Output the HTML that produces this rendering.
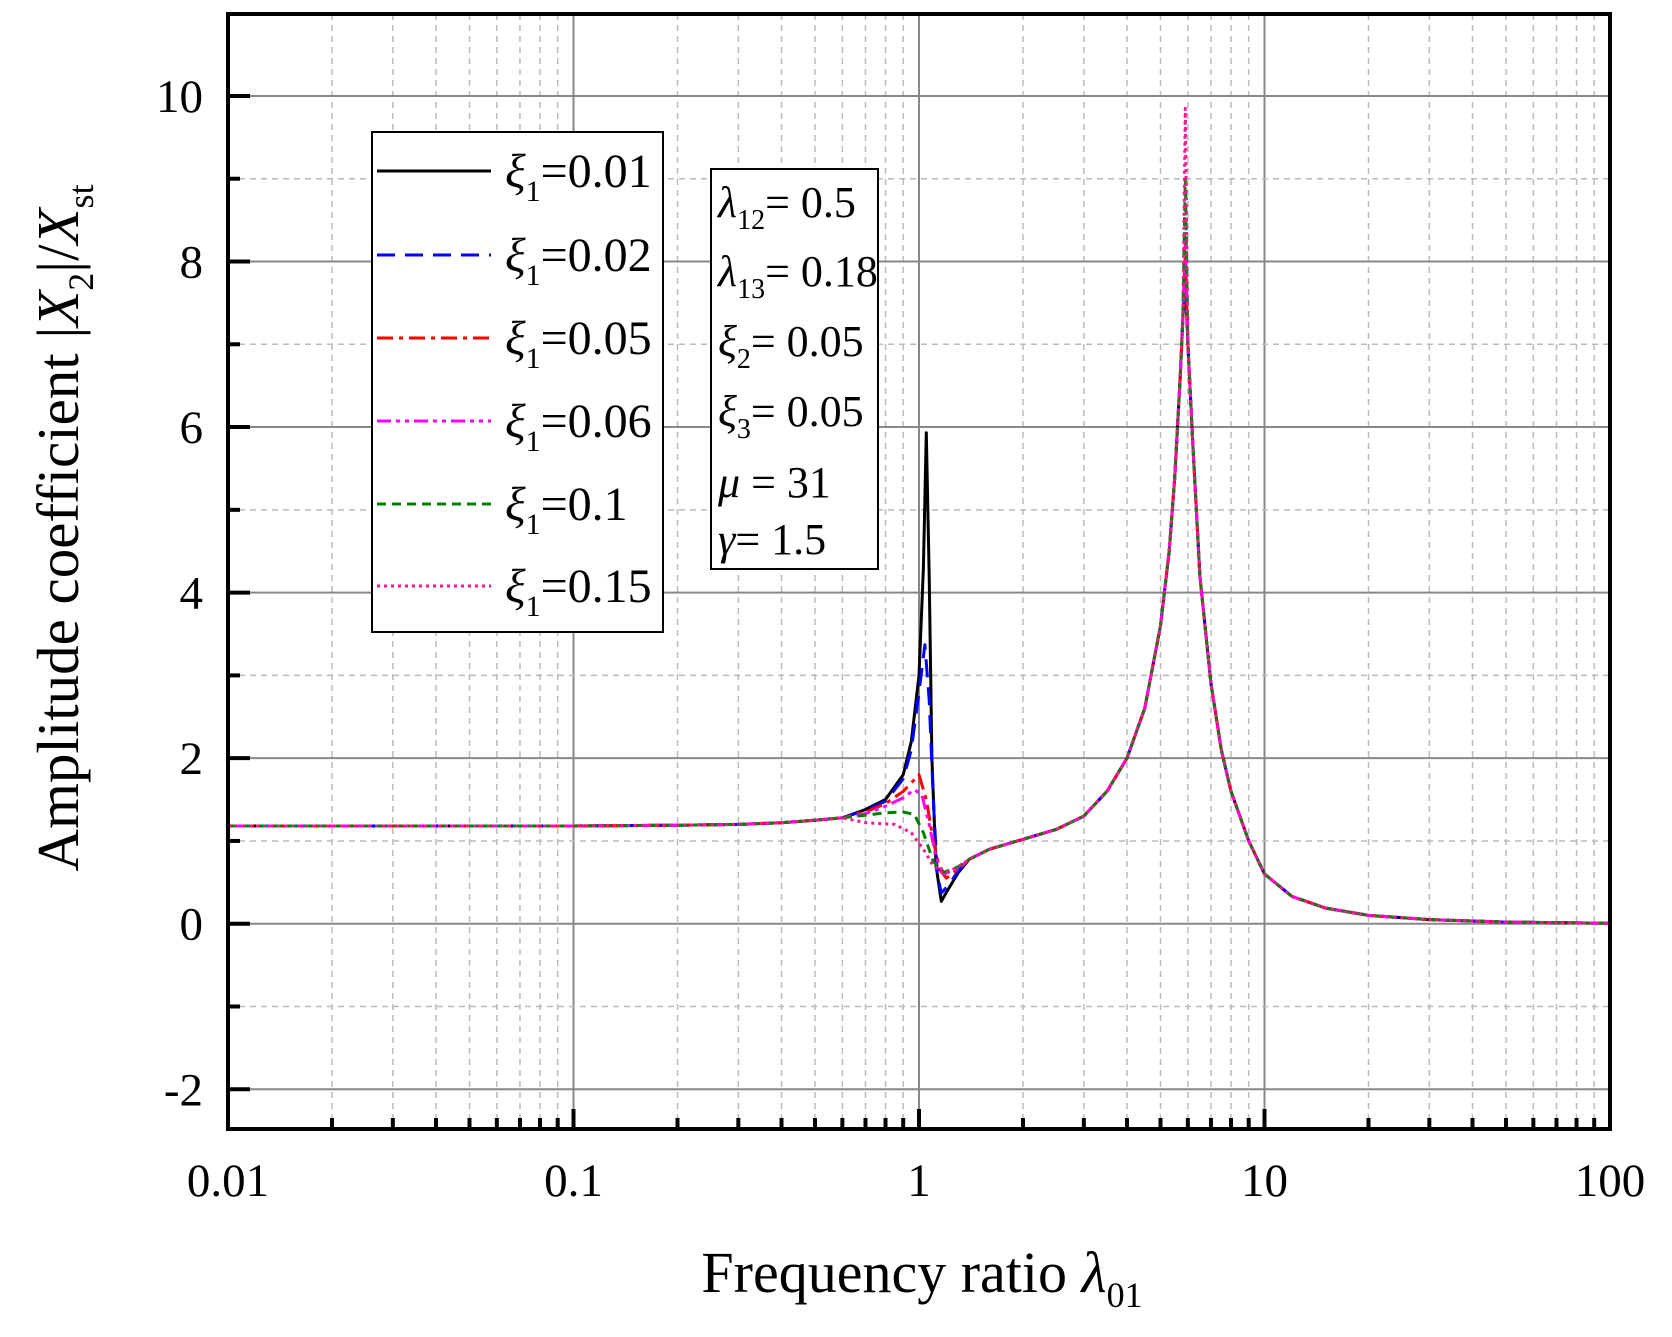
<!DOCTYPE html>
<html><head><meta charset="utf-8"><style>
body{margin:0;background:#fff}
svg text{font-family:"Liberation Serif",serif;fill:#000}
</style></head><body>
<svg id="chart" width="1672" height="1332" viewBox="0 0 1672 1332" xmlns="http://www.w3.org/2000/svg">
<g id="grid"></g>
<g id="series"></g>
<g id="axes"></g>
<g>
<rect x="372" y="132" width="291" height="500" fill="#fff" stroke="#000" stroke-width="2"/>
</g>
<g id="legendItems"></g>
<g font-size="44">
<rect x="711" y="169" width="167" height="400" fill="#fff" stroke="#000" stroke-width="2"/>
<text x="718" y="217"><tspan font-style="italic">λ</tspan><tspan font-size="28" dy="12">12</tspan><tspan dy="-12">= 0.5</tspan></text>
<text x="718" y="286"><tspan font-style="italic">λ</tspan><tspan font-size="28" dy="12">13</tspan><tspan dy="-12">= 0.18</tspan></text>
<text x="718" y="356"><tspan font-style="italic">ξ</tspan><tspan font-size="28" dy="12">2</tspan><tspan dy="-12">= 0.05</tspan></text>
<text x="718" y="426"><tspan font-style="italic">ξ</tspan><tspan font-size="28" dy="12">3</tspan><tspan dy="-12">= 0.05</tspan></text>
<text x="718" y="497"><tspan font-style="italic">μ</tspan> = 31</text>
<text x="718" y="554"><tspan font-style="italic">γ</tspan>= 1.5</text>
</g>
<text x="922" y="1292" font-size="58" text-anchor="middle">Frequency ratio <tspan font-style="italic">λ</tspan><tspan font-size="36" dy="15">01</tspan></text>
<text transform="translate(78,528) rotate(-90)" font-size="59" text-anchor="middle">Amplitude coefficient |<tspan font-style="italic">X</tspan><tspan font-size="36" dy="15">2</tspan><tspan dy="-15">|/</tspan><tspan font-style="italic">X</tspan><tspan font-size="36" dy="15">st</tspan></text>
</svg>
<script>
const xTickLabels=["0.01","0.1","1","10","100"];
const yTickLabels=["-2","0","2","4","6","8","10"];
const seriesNames=["ξ1=0.01","ξ1=0.02","ξ1=0.05","ξ1=0.06","ξ1=0.1","ξ1=0.15"];
const headX=[0.01,0.03,0.1,0.2,0.3,0.4,0.5,0.6];
const headY=[1.18,1.18,1.18,1.19,1.2,1.22,1.25,1.28];
const tailX=[1.4,1.6,2,2.5,3,3.5,4,4.5,5,5.3,5.5,5.7,5.8];
const tailY=[0.78,0.9,1.02,1.14,1.3,1.6,2.0,2.6,3.6,4.5,5.4,6.6,7.3];
const tail2X=[6.0,6.2,6.5,7,7.5,8,9,10,12,15,20,30,50,100];
const tail2Y=[7.0,5.8,4.2,2.9,2.1,1.6,1.0,0.6,0.33,0.19,0.1,0.05,0.02,0.005];
const peak2X=5.9;
const peak2Y=[7.8,7.9,8.1,8.3,9.0,9.85];
const midX0=[0.7,0.8,0.9,0.95,1.0,1.03,1.05,1.07,1.09,1.12,1.16,1.2,1.3];
const midY0=[1.38,1.5,1.8,2.2,3.0,4.3,5.93,4.2,2.0,0.7,0.27,0.38,0.62];
const midX1=[0.7,0.8,0.9,0.95,1.0,1.04,1.07,1.1,1.13,1.16,1.22,1.3];
const midY1=[1.37,1.48,1.75,2.1,2.8,3.37,2.7,1.5,0.6,0.37,0.47,0.64];
const midX2=[0.7,0.8,0.9,1.0,1.05,1.1,1.15,1.2,1.3];
const midY2=[1.35,1.45,1.6,1.8,1.5,1.0,0.65,0.55,0.66];
const midX3=[0.7,0.8,0.9,0.97,1.02,1.07,1.12,1.18,1.3];
const midY3=[1.33,1.42,1.52,1.62,1.55,1.2,0.8,0.6,0.67];
const midX4=[0.7,0.8,0.9,0.97,1.03,1.1,1.18,1.3];
const midY4=[1.31,1.34,1.35,1.32,1.1,0.75,0.62,0.69];
const midX5=[0.7,0.85,0.95,1.03,1.1,1.18,1.3];
const midY5=[1.22,1.2,1.1,0.9,0.7,0.6,0.69];
const midXs=[midX0,midX1,midX2,midX3,midX4,midX5];
const midYs=[midY0,midY1,midY2,midY3,midY4,midY5];
const colors=["#000","#0000ff","#ff0000","#ff00ff","#008000","#ff1493"];
const dashes=["","18,10","16,6,4,6","14,5,4,5,4,5","9,6","3,4"];

const L=228,R=1610,T=14,B=1129,YMIN=-2.48,YMAX=10.99;
const sx=v=>L+(Math.log10(v)+2)/4*(R-L);
const sy=v=>B-(v-YMIN)/(YMAX-YMIN)*(B-T);
const NS="http://www.w3.org/2000/svg";
function mk(tag,attrs,parent){const e=document.createElementNS(NS,tag);for(const k in attrs)e.setAttribute(k,attrs[k]);parent.appendChild(e);return e;}
const grid=document.getElementById('grid'),axes=document.getElementById('axes'),ser=document.getElementById('series');
for(let d=-2;d<2;d++){for(let m=1;m<10;m++){const v=m*Math.pow(10,d);const x=sx(v);
 if(m===1){if(d>-2){const g=mk('line',{x1:x,x2:x,y1:T,y2:B,stroke:'#888','stroke-width':2},grid);}
  const t=mk('line',{x1:x,x2:x,y1:B,y2:B-20,stroke:'#000','stroke-width':4},axes);}
 else{const g=mk('line',{x1:x,x2:x,y1:T,y2:B,stroke:'#bbb','stroke-width':1.5,'stroke-dasharray':'6,5'},grid);
  const t=mk('line',{x1:x,x2:x,y1:B,y2:B-11,stroke:'#000','stroke-width':4},axes);}
}}
for(let y=-2;y<=10;y++){const py=sy(y);
 if(y%2===0){const g=mk('line',{x1:L,x2:R,y1:py,y2:py,stroke:'#888','stroke-width':2},grid);
  const t=mk('line',{x1:L,x2:L+22,y1:py,y2:py,stroke:'#000','stroke-width':4},axes);}
 else{const g=mk('line',{x1:L,x2:R,y1:py,y2:py,stroke:'#bbb','stroke-width':1.5,'stroke-dasharray':'6,5'},grid);
  const t=mk('line',{x1:L,x2:L+12,y1:py,y2:py,stroke:'#000','stroke-width':4},axes);}
}
const frame=mk('rect',{x:L,y:T,width:R-L,height:B-T,fill:'none',stroke:'#000','stroke-width':4},axes);

xTickLabels.forEach(s=>{const t=mk('text',{x:sx(parseFloat(s)),y:1196,'font-size':47,'text-anchor':'middle'},axes);t.textContent=s;
 });
yTickLabels.forEach(s=>{const t=mk('text',{x:203,y:sy(parseFloat(s))+16,'font-size':47,'text-anchor':'end'},axes);t.textContent=s;
 });
for(let i=0;i<6;i++){
 const xs=[...headX,...midXs[i],...tailX,peak2X,...tail2X];
 const ys=[...headY,...midYs[i],...tailY,peak2Y[i],...tail2Y];
 const d=xs.map((x,k)=>(k?'L':'M')+sx(x).toFixed(1)+','+sy(ys[k]).toFixed(1)).join(' ');
 const p=mk('path',{d:d,fill:'none',stroke:colors[i],'stroke-width':3,'stroke-linejoin':'round'},ser);
 if(dashes[i])p.setAttribute('stroke-dasharray',dashes[i]);
 
 
}
const li=document.getElementById('legendItems');
const ly=[171,255,338,421,504,586];
seriesNames.forEach((n,i)=>{
 const g=mk('g',{},li);
 
 
 const l=mk('line',{x1:377,x2:491,y1:ly[i],y2:ly[i],stroke:colors[i],'stroke-width':3},g);
 if(dashes[i])l.setAttribute('stroke-dasharray',dashes[i]);
 const t=mk('text',{x:505,y:ly[i]+16,'font-size':48},g);
 t.innerHTML='<tspan font-style="italic">ξ</tspan><tspan font-size="30" dy="14">1</tspan><tspan dy="-14">'+n.slice(2)+'</tspan>';
});
</script>
</body></html>
